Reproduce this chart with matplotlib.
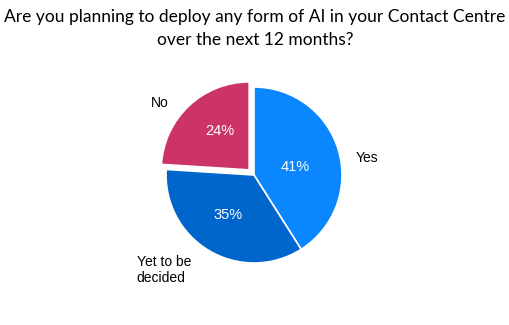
import matplotlib.pyplot as plt

# ---------------- data ----------------
labels = ['Yes', 'Yet to be\ndecided', 'No']
shares = [41, 35, 24]
colors = ['#0a86fe', '#0066cc', '#cc3366']
explode = [0, 0, 7]   # pie() takes explode in data units here (pixels)

title = 'Are you planning to deploy any form of AI in your Contact Centre\nover the next 12 months?'

# ---------------- figure ----------------
fig = plt.figure(figsize=(5.1, 3.25), dpi=100)
ax = fig.add_axes([0, 0, 1, 1])

cx, cy, r = 254, 150, 88
wedges, texts, autotexts = ax.pie(
    shares, labels=labels, colors=colors, explode=explode,
    startangle=90, counterclock=False, center=(cx, cy), radius=r,
    autopct='%d%%', pctdistance=0.55, labeldistance=1.3,
    wedgeprops=dict(edgecolor='white', linewidth=1.2),
    textprops=dict(family='Liberation Sans', fontsize=10),
    frame=True)
ax.set_xlim(0, 510)
ax.set_ylim(0, 325)
ax.set_aspect('equal')
ax.axis('off')

# label placement tweaks (offsets from centre, pixels)
label_pos = [(113, 17), (-90, -95), (-94, 72)]
for t, (dx, dy) in zip(texts, label_pos):
    t.set_position((cx + dx, cy + dy))
    t.set_ha('center')
    t.set_va('center')
    t.set_multialignment('left')

pct_pos = [(41, 8), (-26, -40), (-34, 44)]
for t, (dx, dy) in zip(autotexts, pct_pos):
    t.set_position((cx + dx, cy + dy))
    t.set_color('white')
    t.set_fontsize(10.5)

fig.text(0.5, 1 - 9 / 325, title, ha='center', va='top', fontsize=12.5,
         family='Lato', linespacing=1.55)

fig.savefig('out.png', dpi=100, facecolor='white')
